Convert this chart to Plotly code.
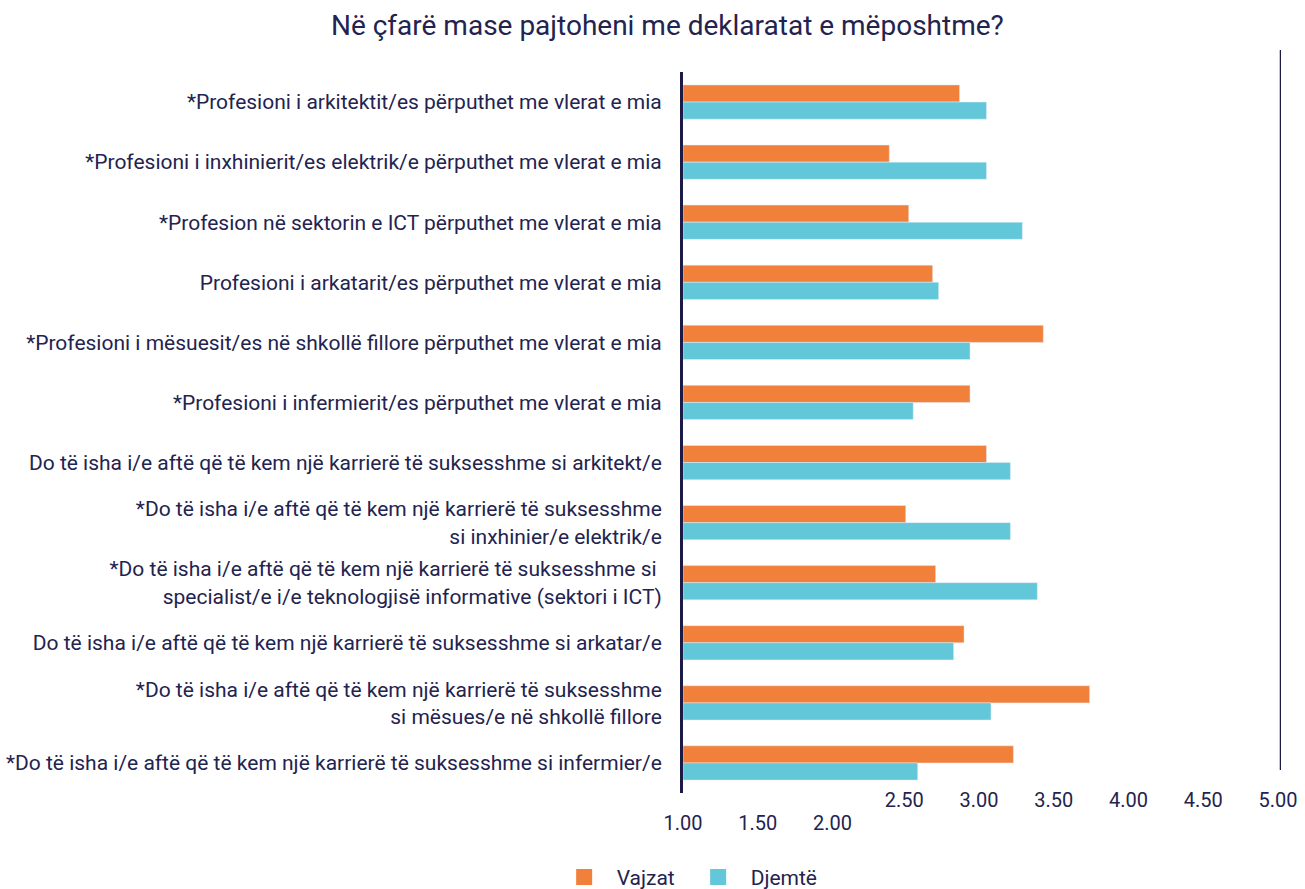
import plotly.graph_objects as go

categories = [
    "*Profesioni i arkitektit/es përputhet me vlerat e mia",
    "*Profesioni i inxhinierit/es elektrik/e përputhet me vlerat e mia",
    "*Profesion në sektorin e ICT përputhet me vlerat e mia",
    "Profesioni i arkatarit/es përputhet me vlerat e mia",
    "*Profesioni i mësuesit/es në shkollë fillore përputhet me vlerat e mia",
    "*Profesioni i infermierit/es përputhet me vlerat e mia",
    "Do të isha i/e aftë që të kem një karrierë të suksesshme si arkitekt/e",
    "*Do të isha i/e aftë që të kem një karrierë të suksesshme<br>si inxhinier/e elektrik/e",
    "*Do të isha i/e aftë që të kem një karrierë të suksesshme si <br>specialist/e i/e teknologjisë informative (sektori i ICT)",
    "Do të isha i/e aftë që të kem një karrierë të suksesshme si arkatar/e",
    "*Do të isha i/e aftë që të kem një karrierë të suksesshme<br>si mësues/e në shkollë fillore",
    "*Do të isha i/e aftë që të kem një karrierë të suksesshme si infermier/e",
]
vajzat = [2.85, 2.38, 2.51, 2.67, 3.41, 2.92, 3.03, 2.49, 2.69, 2.88, 3.72, 3.21]
djemte = [3.03, 3.03, 3.27, 2.71, 2.92, 2.54, 3.19, 3.19, 3.37, 2.81, 3.06, 2.57]
ticks_upper = [2.5, 3.0, 3.5, 4.0, 4.5, 5.0]
ticks_lower = [1.0, 1.5, 2.0]
axis_min = 1.0

NAVY = "#23234f"
ORANGE = "#F0803A"
BLUE = "#61C7D9"
FONT = "Roboto"

fig = go.Figure()
fig.add_trace(go.Bar(name="Vajzat", y=categories, x=[v - axis_min for v in vajzat], base=axis_min,
                     orientation="h", marker_color=ORANGE, showlegend=False))
fig.add_trace(go.Bar(name="Djemtë", y=categories, x=[v - axis_min for v in djemte], base=axis_min,
                     orientation="h", marker_color=BLUE, showlegend=False))
# legend-only entries with larger squares
fig.add_trace(go.Scatter(name="Vajzat", x=[None], y=[None], mode="markers",
                         marker=dict(symbol="square", size=16, color=ORANGE)))
fig.add_trace(go.Scatter(name="Djemtë", x=[None], y=[None], mode="markers",
                         marker=dict(symbol="square", size=16, color=BLUE)))
# dummy trace to show xaxis2
fig.add_trace(go.Scatter(x=[None], y=[None], xaxis="x2", showlegend=False, hoverinfo="skip"))

fig.update_layout(
    width=1305, height=889,
    margin=dict(l=683, r=24, t=72, b=96, autoexpand=False),
    paper_bgcolor="white", plot_bgcolor="white",
    font=dict(family=FONT, color=NAVY, size=20),
    title=dict(text="Në çfarë mase pajtoheni me deklaratat e mëposhtme?",
               x=0.5114, xanchor="center", y=0.972, yanchor="middle",
               font=dict(size=28, color=NAVY, family=FONT)),
    barmode="group", bargap=0.43, bargroupgap=0,
    legend=dict(orientation="h", xref="container", x=0.5254, xanchor="center",
                yref="paper", y=-0.117, yanchor="middle",
                font=dict(size=21, color=NAVY), itemwidth=55, entrywidth=64),
    xaxis=dict(range=[1, 5], tickvals=ticks_upper,
               ticktext=[f"{v:.2f}" for v in ticks_upper], automargin=False,
               showgrid=False, zeroline=False, showline=False, ticks="",
               ticklabelstandoff=-7, ticklabelshift=-3, tickfont=dict(size=20, color=NAVY)),
    xaxis2=dict(range=[1, 5], overlaying="x", side="bottom", anchor="y", automargin=False,
                tickvals=ticks_lower, ticktext=[f"{v:.2f}" for v in ticks_lower],
                showgrid=False, zeroline=False, showline=False, ticks="",
                ticklabelstandoff=16, tickfont=dict(size=20, color=NAVY)),
    yaxis=dict(autorange="reversed", showline=True, linecolor="#1b1b45", linewidth=3,
               ticks="", ticklabelstandoff=14, showgrid=False, automargin=False,
               tickfont=dict(size=21, color=NAVY)),
)

fig.add_shape(type="line", xref="x", yref="paper", x0=5, x1=5, y0=0.032, y1=1.0305,
              line=dict(color="#1b1b45", width=2.5))

fig.write_html("out.html", config={"displayModeBar": False},
               post_script="document.body.style.margin='0';")
